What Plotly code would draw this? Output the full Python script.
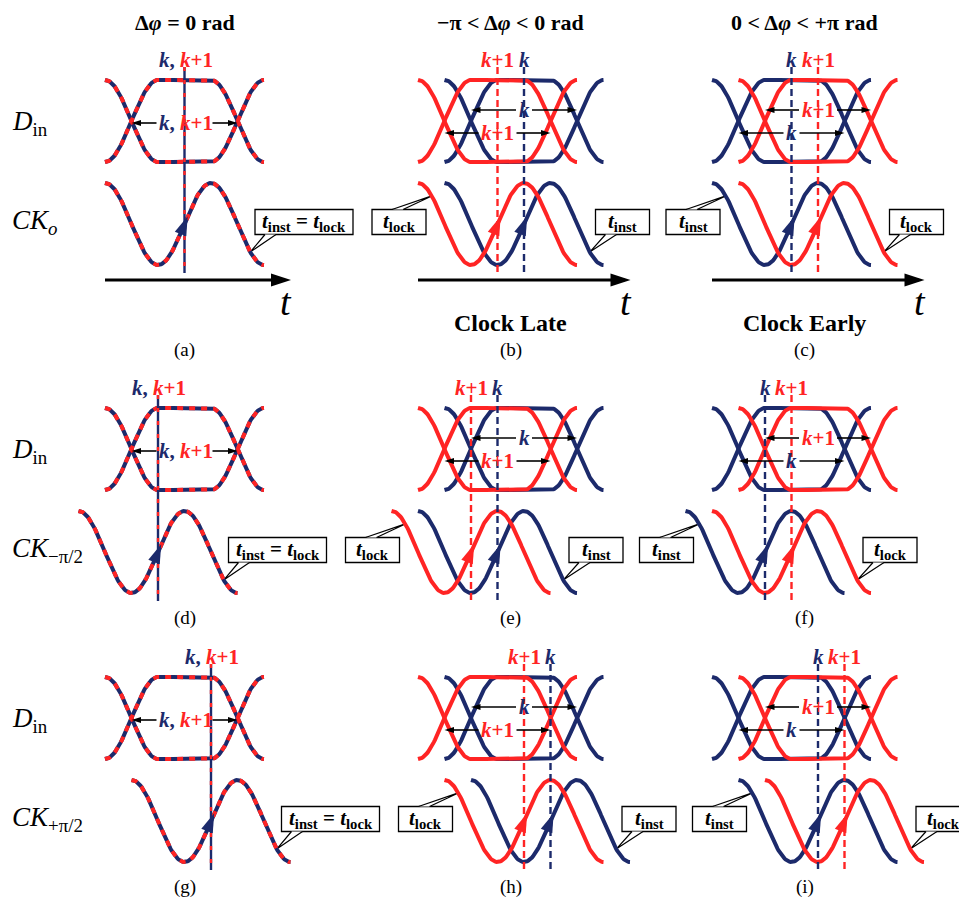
import numpy as np
import plotly.graph_objects as go

# ---------------- data ----------------
col_titles = ["Δ<i>φ</i> = 0 rad", "−π < Δ<i>φ</i> < 0 rad", "0 < Δ<i>φ</i> < +π rad"]
col_notes = ["", "Clock Late", "Clock Early"]
# eye-diagram shift of bit k and bit k+1 in each column (unit intervals)
shift_k = [0.0, 0.25, 0.0]
shift_k1 = [0.0, 0.0, 0.25]
# clock phase offset in each row (unit intervals)
row_clock_phase = [0.0, -0.25, 0.25]
row_data_label = "<i>D</i><sub>in</sub>"
row_clock_labels = ["<i>CK<sub>o</sub></i>", "<i>CK</i><sub>−π/2</sub>", "<i>CK</i><sub>+π/2</sub>"]
panel_letters = [["(a)", "(b)", "(c)"], ["(d)", "(e)", "(f)"], ["(g)", "(h)", "(i)"]]
bit_labels = ["<i>k</i>", "<i>k</i>+1"]
bit_times = ["inst", "lock"]

# ---------------- layout / style ----------------
W, H = 967, 902
PAGE_MARGIN = 8          # browser default body margin
NAVY = "#1c2a6b"
RED = "#ff2424"
BIT_COLORS = [NAVY, RED]
FONT = "Liberation Serif, Times New Roman, serif"
UI = 106.0
col_x = [105, 418, 712]
eye_top = [80, 408, 677]
SWING = 82.0
CLK_GAP = 103
letter_y = [350, 618, 887]
LW = 4

fig = go.Figure()
ann = []
shapes = []


def add_text(x, y, text, size, color="black", bold=False, xanchor="center", pad=1):
    ann.append(dict(x=x, y=y, text=text, showarrow=False, xanchor=xanchor, yanchor="middle",
                    borderpad=pad,
                    font=dict(family=FONT, size=size, color=color,
                              weight="bold" if bold else "normal")))


def add_line(x, y, color, width, dash="solid", fill=None, fillcolor=None):
    fig.add_trace(go.Scatter(x=x, y=y, mode="lines", hoverinfo="skip", showlegend=False,
                             line=dict(color=color, width=width, dash=dash),
                             fill=fill, fillcolor=fillcolor))


def add_head(x, y, angle, size, color):
    fig.add_trace(go.Scatter(x=[x], y=[y], mode="markers", hoverinfo="skip", showlegend=False,
                             marker=dict(symbol="arrow", size=size, angle=angle, color=color,
                                         line=dict(width=0))))


def eye_xy(x0, mid, amp, n=160):
    u = np.linspace(0, 1.5, n)
    s = np.where(u < 0.5, np.cos(2 * np.pi * u),
                 np.where(u < 1.0, -1.0, -np.cos(2 * np.pi * (u - 1.0))))
    x = x0 + u * UI
    xs = list(x) + [None] + list(x)
    ys = list(mid - amp * s) + [None] + list(mid + amp * s)
    return xs, ys


def clock_y(x, xs, mid, amp):
    return mid - amp * np.cos(2 * np.pi * (np.asarray(x) - xs) / UI)


def clock_xy(xs, mid, amp, n=160):
    x = np.linspace(xs, xs + 1.5 * UI, n)
    return list(x), list(clock_y(x, xs, mid, amp))


def both_bits(xc, y):
    # "k, k+1": navy "k," then red "k+1"
    add_text(xc - 9, y, bit_labels[0] + ",", 21, NAVY, True, "right", 0)
    add_text(xc - 6, y, bit_labels[1], 21, RED, True, "left", 0)


def t_text(names):
    return " = ".join("<i>t</i><sub>%s</sub>" % n for n in names)


def callout(text, box_x0, box_w, cy, tip_x, tip_y, side):
    bh = 25
    y0, y1 = cy - bh / 2, cy + bh / 2
    shapes.append(dict(type="rect", x0=box_x0, x1=box_x0 + box_w, y0=y0, y1=y1,
                       line=dict(color="black", width=1.3), fillcolor="white", layer="below"))
    if side == "left":   # tail leaves the top edge
        bx = [box_x0 + 20, box_x0 + 31]
        by = y0
    else:                # tail leaves the bottom edge
        bx = [box_x0 + 10, box_x0 + 21]
        by = y1
    add_line([bx[0], tip_x, bx[1]], [by, tip_y, by], "black", 1.2, fill="toself", fillcolor="white")
    add_text(box_x0 + box_w / 2, cy, text, 21, "black", True)


def eye_arrow(xl, xr, y, half_gap):
    xc = (xl + xr) / 2
    add_line([xl + 3, xc - half_gap, None, xc + half_gap, xr - 3], [y, y, None, y, y], "black", 1.6)
    add_head(xl, y, 270, 10, "black")
    add_head(xr, y, 90, 10, "black")
    return xc


amp = SWING / 2
for r in range(3):
    et = eye_top[r]
    emid = et + amp
    ct = et + CLK_GAP
    cmid = ct + amp
    cb = ct + SWING
    # row labels
    add_text(10, emid + 2, row_data_label, 27, xanchor="left")
    add_text(10, cmid - 2, row_clock_labels[r], 27, xanchor="left")
    for c in range(3):
        x_eye = [col_x[c] + shift_k[c] * UI, col_x[c] + shift_k1[c] * UI]
        x_clk = [xe + row_clock_phase[r] * UI for xe in x_eye]
        x_cross = [xc + 0.75 * UI for xc in x_clk]
        same = x_eye[0] == x_eye[1]
        pc = (min(x_eye) + max(x_eye) + 1.5 * UI) / 2
        tail_d = 0.13 * UI

        # ---- callouts (drawn first, below curves)
        if same:
            end = x_clk[0] + 1.5 * UI
            tx = end - tail_d
            callout(t_text(bit_times), end - 9, 98, cmid - 2, tx, float(clock_y(tx, x_clk[0], cmid, amp)), "right")
        else:
            ie = int(np.argmin(x_clk))
            il = int(np.argmax(x_clk))
            st = x_clk[ie]
            tx = st + tail_d
            callout(t_text([bit_times[ie]]), st + 8 - 54, 54, cmid - 2, tx,
                    float(clock_y(tx, st, cmid, amp)), "left")
            end = x_clk[il] + 1.5 * UI
            tx = end - tail_d
            callout(t_text([bit_times[il]]), end - 8, 54, cmid - 2, tx,
                    float(clock_y(tx, x_clk[il], cmid, amp)), "right")

        # ---- eye diagrams & clocks
        if same:
            ex, ey = eye_xy(x_eye[0], emid, amp)
            cx, cy = clock_xy(x_clk[0], cmid, amp)
            add_line(ex, ey, NAVY, LW)
            add_line(ex, ey, RED, LW, dash="6px,6px")
            add_line(cx, cy, NAVY, LW)
            add_line(cx, cy, RED, LW, dash="6px,6px")
        else:
            for i in (0, 1):
                ex, ey = eye_xy(x_eye[i], emid, amp)
                add_line(ex, ey, BIT_COLORS[i], LW)
            for i in (0, 1):
                cx, cy = clock_xy(x_clk[i], cmid, amp)
                add_line(cx, cy, BIT_COLORS[i], LW)

        # ---- sampling (dashed) lines, arrowheads and labels
        if same:
            xs = x_cross[0]
            add_line([xs, xs], [et - 13, cb + 8], NAVY, 2.4)
            add_line([xs, xs], [et - 13, cb + 8], RED, 2.4, dash="4px,9px")
            tipx = xs + 0.03 * UI
            add_head(tipx, float(clock_y(tipx, x_clk[0], cmid, amp)), 22, 20, NAVY)
            both_bits(xs, et - 20)
            xc = eye_arrow(x_eye[0] + 0.25 * UI, x_eye[0] + 1.25 * UI, emid + 2, 28)
            both_bits(xc, emid + 2)
        else:
            for i in (0, 1):
                xs = x_cross[i]
                add_line([xs, xs], [et - 13, cb + 8], BIT_COLORS[i], 2.4, dash="7px,4px")
            for i in (0, 1):
                xs = x_cross[i]
                tipx = xs + 0.03 * UI
                add_head(tipx, float(clock_y(tipx, x_clk[i], cmid, amp)), 22, 20, BIT_COLORS[i])
                add_text(xs, et - 20, bit_labels[i], 21, BIT_COLORS[i], True)
            later = int(np.argmax(x_eye))
            for i in (0, 1):
                yv = et + 30 if i == later else et + 53
                xc = eye_arrow(x_eye[i] + 0.25 * UI, x_eye[i] + 1.25 * UI, yv, 8 if i == 0 else 19)
                add_text(xc, yv, bit_labels[i], 21, BIT_COLORS[i], True)

        # ---- time axis, titles, notes (first row only)
        if r == 0:
            ax_end = max(x_eye) + 1.5 * UI + 27
            add_line([min(x_eye), ax_end - 6], [cb + 15, cb + 15], "black", 3)
            add_head(ax_end, cb + 15, 90, 21, "black")
            add_text(ax_end - 5, cb + 37, "<i>t</i>", 38)
            add_text(pc, 22, col_titles[c], 22, bold=True)
            if col_notes[c]:
                add_text(pc, 323, col_notes[c], 24, bold=True)
        add_text(pc, letter_y[r], panel_letters[r][c], 19)

# the page adds a default body margin, so the plot area is shifted by it;
# the axis ranges start at that margin so axis units equal window pixels
fig.update_layout(
    width=W - PAGE_MARGIN, height=H - PAGE_MARGIN, margin=dict(l=0, r=0, t=0, b=0),
    paper_bgcolor="white", plot_bgcolor="white", showlegend=False,
    xaxis=dict(range=[PAGE_MARGIN, W], visible=False, fixedrange=True),
    yaxis=dict(range=[H, PAGE_MARGIN], visible=False, fixedrange=True),
    annotations=ann, shapes=shapes,
)
fig.write_html("out.html")
